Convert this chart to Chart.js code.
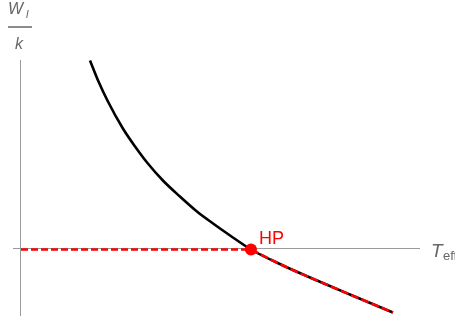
<!DOCTYPE html>
<html>
<head>
<meta charset="utf-8">
<script src="https://cdn.jsdelivr.net/npm/chart.js@4"></script>
<style>
  html, body { margin: 0; padding: 0; background: #fff; }
  canvas { display: block; }
</style>
</head>
<body>
<canvas id="chart" width="455" height="316"></canvas>
<script>
// T_eff (HP at T = 1) and W_l/k
var tValues = [0.30, 0.335, 0.378, 0.443, 0.496, 0.548, 0.617, 0.691, 0.765, 0.835, 0.909, 1.0, 1.139, 1.287, 1.430, 1.617];
var wValues = [1.89, 1.69, 1.48, 1.21, 1.03, 0.87, 0.69, 0.53, 0.38, 0.26, 0.14, 0.0, -0.16, -0.31, -0.45, -0.63];

// red dashed flat part, from the axis to HP
var flatT = [0, 1.0];
var flatW = [0, 0];

var hpPoint = [1.0, 0.0];
var hpLabel = 'HP';

function toPoints(xs, ys) {
    return xs.map(function (x, i) { return { x: x, y: ys[i] }; });
}

// red dashed part below HP follows the curve
var hpIndex = tValues.indexOf(hpPoint[0]);
var tailT = tValues.slice(hpIndex);
var tailW = wValues.slice(hpIndex);

var axisGray = '#9a9a9a';
var labelGray = '#666666';

// axes and labels, drawn Mathematica-style
var axesPlugin = {
    id: 'axes',
    beforeDatasetsDraw: function (chart) {
        var ctx = chart.ctx;
        var xs = chart.scales.x, ys = chart.scales.y;
        var x0 = Math.round(xs.getPixelForValue(0)) - 0.5;
        var y0 = Math.floor(ys.getPixelForValue(0)) - 0.5;
        ctx.save();
        ctx.strokeStyle = axisGray;
        ctx.lineWidth = 1;
        ctx.beginPath();
        ctx.moveTo(13, y0);
        ctx.lineTo(420, y0);
        ctx.moveTo(x0, 60);
        ctx.lineTo(x0, chart.height);
        ctx.stroke();
        ctx.restore();
    },
    afterDatasetsDraw: function (chart) {
        var ctx = chart.ctx;
        var xs = chart.scales.x, ys = chart.scales.y;
        ctx.save();
        ctx.fillStyle = labelGray;
        ctx.textBaseline = 'alphabetic';

        // x label T_eff
        ctx.font = 'italic 19px "Liberation Sans", Arial, sans-serif';
        ctx.fillText('T', 431, 257);
        ctx.font = '13px "Liberation Sans", Arial, sans-serif';
        ctx.fillText('eff', 443, 260);

        // y label W_l / k
        ctx.font = 'italic 16px "Liberation Sans", Arial, sans-serif';
        ctx.fillText('W', 8, 14);
        ctx.font = 'italic 11px "Liberation Sans", Arial, sans-serif';
        ctx.fillText('l', 26, 18);
        ctx.strokeStyle = labelGray;
        ctx.lineWidth = 1.5;
        ctx.beginPath();
        ctx.moveTo(8, 27);
        ctx.lineTo(32, 27);
        ctx.stroke();
        ctx.font = 'italic 16px "Liberation Sans", Arial, sans-serif';
        ctx.fillText('k', 15, 49);

        // HP label
        var px = xs.getPixelForValue(hpPoint[0]);
        var py = ys.getPixelForValue(hpPoint[1]);
        ctx.fillStyle = '#ff0000';
        ctx.font = '18px "Liberation Sans", Arial, sans-serif';
        ctx.fillText(hpLabel, px + 8, py - 6);
        ctx.restore();
    }
};

var ctx = document.getElementById('chart').getContext('2d');

var myChart = new Chart(ctx, {
    type: 'line',
    data: {
        datasets: [
            {
                label: 'HP',
                data: [{ x: hpPoint[0], y: hpPoint[1] }],
                showLine: false,
                pointRadius: 6,
                pointBackgroundColor: '#ff0000',
                pointBorderWidth: 0,
                order: 0
            },
            {
                label: 'flat',
                data: toPoints(flatT, flatW),
                borderColor: '#ff0000',
                borderWidth: 2.6,
                borderDash: [7, 3],
                pointRadius: 0,
                fill: false,
                tension: 0,
                order: 1
            },
            {
                label: 'tail',
                data: toPoints(tailT, tailW),
                borderColor: '#ff0000',
                borderWidth: 2.6,
                borderDash: [8, 3],
                pointRadius: 0,
                fill: false,
                cubicInterpolationMode: 'monotone',
                order: 1
            },
            {
                label: 'curve',
                data: toPoints(tValues, wValues),
                borderColor: '#000000',
                borderWidth: 2.6,
                pointRadius: 0,
                fill: false,
                cubicInterpolationMode: 'monotone',
                order: 2
            }
        ]
    },
    options: {
        responsive: false,
        animation: false,
        layout: { padding: 0, autoPadding: false },
        plugins: {
            legend: { display: false },
            tooltip: { enabled: false }
        },
        scales: {
            x: { type: 'linear', display: false, min: -21 / 230, max: 434 / 230 },
            y: { type: 'linear', display: false, min: -0.665, max: 2.495 }
        }
    },
    plugins: [axesPlugin]
});
</script>
</body>
</html>
